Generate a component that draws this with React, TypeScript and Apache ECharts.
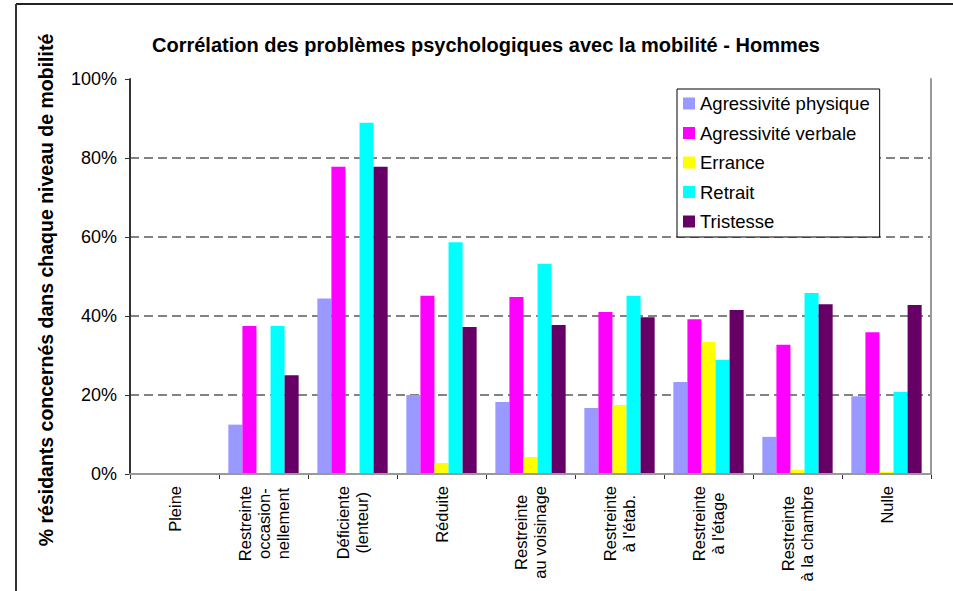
import React, { useEffect, useRef } from "react";
import * as echarts from "echarts";

const categories = [
  "Pleine",
  "Restreinte\noccasion-\nnellement",
  "Déficiente\n(lenteur)",
  "Réduite",
  "Restreinte\nau voisinage",
  "Restreinte\nà l'étab.",
  "Restreinte\nà l'étage",
  "Restreinte\nà la chambre",
  "Nulle",
];

const seriesNames = [
  "Agressivité physique",
  "Agressivité verbale",
  "Errance",
  "Retrait",
  "Tristesse",
];

const agressivitePhysique = [0, 12.5, 44.4, 20.0, 18.2, 16.7, 23.3, 9.4, 19.7];
const agressiviteVerbale = [0, 37.5, 77.8, 45.1, 44.8, 41.0, 39.2, 32.7, 35.9];
const errance = [0, 0, 0, 2.8, 4.3, 17.5, 33.4, 1.0, 0.5];
const retrait = [0, 37.5, 88.9, 58.7, 53.2, 45.1, 28.9, 45.8, 20.8];
const tristesse = [0, 25.0, 77.8, 37.2, 37.7, 39.7, 41.5, 43.0, 42.8];

const seriesData = [agressivitePhysique, agressiviteVerbale, errance, retrait, tristesse];
const colors = ["#9999FF", "#FF00FF", "#FFFF00", "#00FFFF", "#660066"];

const FONT = "'Liberation Sans', Arial, Helvetica, sans-serif";

export default function App() {
  const ref = useRef<HTMLDivElement>(null);

  useEffect(() => {
    if (!ref.current) return;
    const chart = echarts.init(ref.current, null, { renderer: "svg" });
    chart.setOption({
      animation: false,
      backgroundColor: "#ffffff",
      textStyle: { fontFamily: FONT },
      grid: { left: 130, right: 22, top: 79, bottom: 117, containLabel: false },
      legend: {
        data: seriesNames,
        orient: "vertical",
        left: 677,
        top: 89,
        padding: [5, 10, 6, 6],
        itemGap: 10.5,
        itemWidth: 12,
        itemHeight: 12,
        icon: "rect",
        backgroundColor: "#ffffff",
        borderColor: "#000000",
        borderWidth: 1,
        textStyle: { fontFamily: FONT, fontSize: 18.5, color: "#000", lineHeight: 19 },
        z: 10,
      },
      xAxis: [
        {
          type: "category",
          data: categories,
          position: "bottom",
          axisLine: { show: true, lineStyle: { color: "#333", width: 2 } },
          axisTick: { show: true, length: 5, lineStyle: { color: "#333", width: 1 } },
          axisLabel: {
            rotate: 90,
            interval: 0,
            margin: 12,
            fontFamily: FONT,
            fontSize: 16.5,
            lineHeight: 19,
            color: "#000",
            formatter: (v: string) =>
              v
                .split("\n")
                .map((l) => `{c|${l}}`)
                .join("\n"),
            rich: {
              c: {
                align: "center",
                fontFamily: FONT,
                fontSize: 16.5,
                lineHeight: 19,
                color: "#000",
              },
            },
          },
          splitLine: { show: false },
        },
        {
          type: "category",
          data: categories,
          position: "top",
          z: 5,
          axisLine: { show: true, lineStyle: { color: "#999", width: 2 } },
          axisTick: { show: false },
          axisLabel: { show: false },
          splitLine: { show: false },
        },
      ],
      yAxis: [
        {
          type: "value",
          min: 0,
          max: 100,
          interval: 20,
          position: "left",
          axisLine: { show: true, lineStyle: { color: "#333", width: 2 } },
          axisTick: { show: true, length: 5, inside: false, lineStyle: { color: "#333", width: 1 } },
          axisLabel: {
            formatter: "{value}%",
            margin: 13,
            fontFamily: FONT,
            fontSize: 18,
            color: "#000",
          },
          splitLine: {
            show: true,
            showMaxLine: false,
            showMinLine: false,
            lineStyle: { color: "#5a5a5a", width: 1.5, type: [9, 5] },
          },
        },
        {
          type: "value",
          min: 0,
          max: 100,
          interval: 20,
          position: "right",
          z: 5,
          axisLine: { show: true, lineStyle: { color: "#999", width: 2 } },
          axisTick: { show: false },
          axisLabel: { show: false },
          splitLine: { show: false },
        },
      ],
      series: seriesNames.map((name, i) => ({
        name,
        type: "bar",
        data: seriesData[i],
        xAxisIndex: 0,
        yAxisIndex: 0,
        barGap: "0%",
        barCategoryGap: "21%",
        itemStyle: { color: colors[i] },
      })),
      graphic: [
        {
          type: "line",
          shape: { x1: 16, y1: 4, x2: 953, y2: 4 },
          style: { stroke: "#222", lineWidth: 2 },
          z: 20,
        },
        {
          type: "line",
          shape: { x1: 16, y1: 4, x2: 16, y2: 591 },
          style: { stroke: "#333", lineWidth: 2 },
          z: 20,
        },
        {
          type: "text",
          x: 486,
          y: 45,
          style: {
            text: "Corrélation des problèmes psychologiques avec la mobilité - Hommes",
            fontFamily: FONT,
            fontSize: 20,
            fontWeight: "bold",
            fill: "#000",
            align: "center",
            verticalAlign: "middle",
          },
          z: 20,
        },
        {
          type: "text",
          x: 46,
          y: 290,
          rotation: Math.PI / 2,
          style: {
            text: "% résidants concernés dans chaque niveau de mobilité",
            fontFamily: FONT,
            fontSize: 19.5,
            fontWeight: "bold",
            fill: "#000",
            align: "center",
            verticalAlign: "middle",
          },
          z: 20,
        },
      ],
    });
    return () => chart.dispose();
  }, []);

  return (
    <div
      ref={ref}
      style={{ position: "absolute", left: 0, top: 0, width: 953, height: 591 }}
    />
  );
}
